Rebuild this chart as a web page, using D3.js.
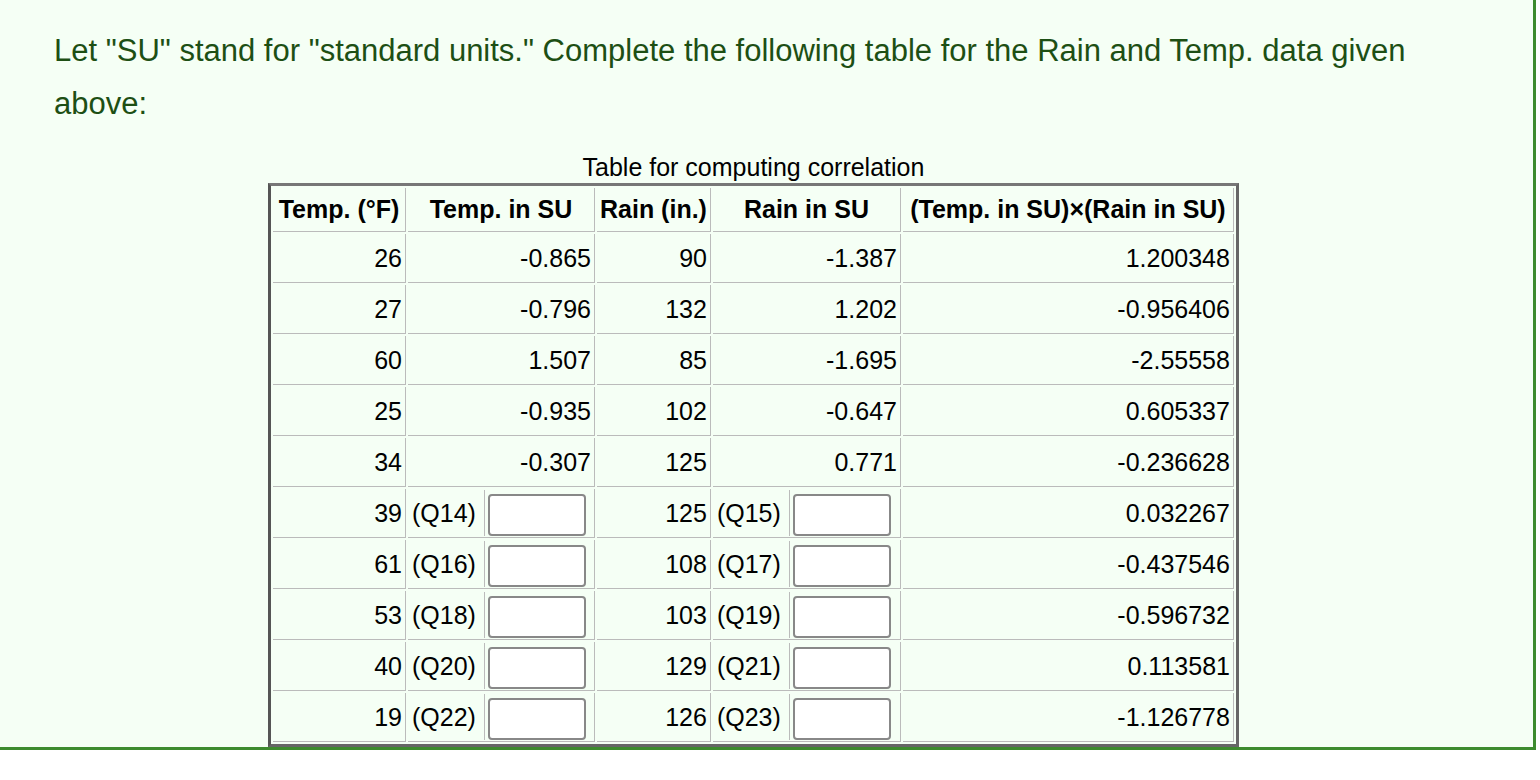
<!DOCTYPE html>
<html>
<head>
<meta charset="utf-8">
<script src="https://cdn.jsdelivr.net/npm/d3@7"></script>
<style>
  body { margin: 0; background: #fff; font-family: "Liberation Sans", Arial, sans-serif; }
  #page { position: absolute; left: 0; top: 0; width: 1533px; height: 747px;
          background: #f5fff5; border-right: 3px solid #3d8b2e; border-bottom: 3px solid #3d8b2e; }
  #intro { position: absolute; left: 54px; top: 24px; width: 1410px; font-size: 31px;
           line-height: 53px; color: #1d4f14; margin: 0; }
  table { position: absolute; left: 268px; top: 153px; border-collapse: separate; border-spacing: 2px;
          border: 3px solid #666; border-left-color: #555; border-top-color: #777; font-size: 25px; color: #000; }
  caption { font-size: 25px; height: 30px; line-height: 28px; }
  td, th { border: 1px solid; border-color: #999 #bbb #bbb #999; border-style: none solid solid none;
           padding: 0 3px; height: 48px; text-align: right; white-space: nowrap; }
  th { text-align: center; font-weight: bold; height: 43px; }
  td.q { text-align: left; padding: 0; }
  td.q span { display: inline-block; width: 72px; padding-left: 4px; border-right: 1px solid #bbb; line-height: 46px; }
  td.q input { width: 98px; height: 38px; box-sizing: border-box; height: 42px; border: 2px solid #888; border-radius: 4px; margin-left: 3px; vertical-align: middle; background: #fff; }
</style>
</head>
<body>
<div id="page">
  <p id="intro">Let "SU" stand for "standard units." Complete the following table for the Rain and Temp. data given above:</p>
</div>
<script>
var headers = ["Temp. (°F)", "Temp. in SU", "Rain (in.)", "Rain in SU", "(Temp. in SU)×(Rain in SU)"];
var colWidths = [135, 189, 115, 190, 333];
var temps = [26, 27, 60, 25, 34, 39, 61, 53, 40, 19];
var tempSU = ["-0.865", "-0.796", "1.507", "-0.935", "-0.307", null, null, null, null, null];
var rains = [90, 132, 85, 102, 125, 125, 108, 103, 129, 126];
var rainSU = ["-1.387", "1.202", "-1.695", "-0.647", "0.771", null, null, null, null, null];
var products = ["1.200348", "-0.956406", "-2.55558", "0.605337", "-0.236628", "0.032267", "-0.437546", "-0.596732", "0.113581", "-1.126778"];
var questions = ["Q14", "Q15", "Q16", "Q17", "Q18", "Q19", "Q20", "Q21", "Q22", "Q23"];

var table = d3.select("#page").append("table");
table.append("caption").text("Table for computing correlation");
table.append("tr").selectAll("th").data(headers).join("th")
  .style("width", function(d, i) { return (colWidths[i] - 9) + "px"; })
  .text(function(d) { return d; });

temps.forEach(function(t, i) {
  var tr = table.append("tr");
  var qi = i - 5;
  function suCell(val, q) {
    var td = tr.append("td");
    if (val !== null) { td.text(val); return; }
    td.attr("class", "q");
    td.append("span").text("(" + q + ")");
    td.append("input").attr("type", "text");
  }
  tr.append("td").text(t);
  suCell(tempSU[i], qi >= 0 ? questions[qi * 2] : null);
  tr.append("td").text(rains[i]);
  suCell(rainSU[i], qi >= 0 ? questions[qi * 2 + 1] : null);
  tr.append("td").text(products[i]);
});
</script>
</body>
</html>
